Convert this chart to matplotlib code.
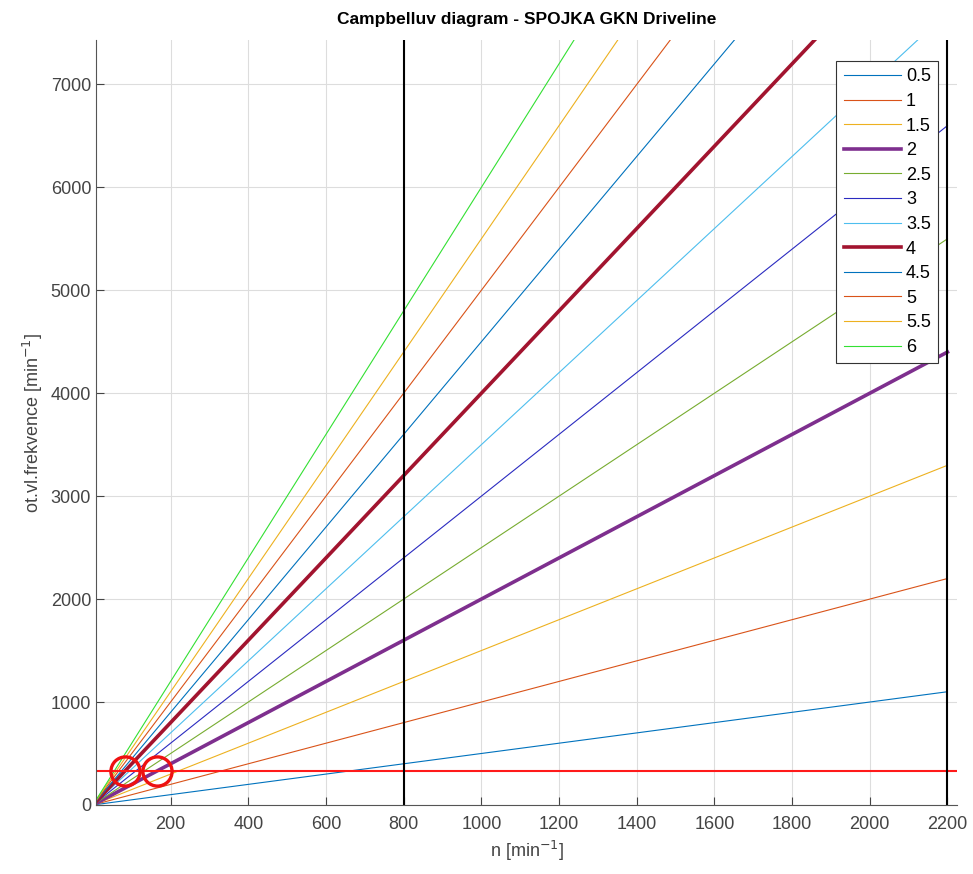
import numpy as np
import matplotlib.pyplot as plt

plt.rcParams['font.family'] = ['Liberation Sans', 'DejaVu Sans']

# harmonic orders k, lines f = k * n
orders = [0.5, 1, 1.5, 2, 2.5, 3, 3.5, 4, 4.5, 5, 5.5, 6]
labels = ['0.5', '1', '1.5', '2', '2.5', '3', '3.5', '4', '4.5', '5', '5.5', '6']
colors = ['#0072BD', '#D95319', '#EDB120', '#7E2F8E', '#77AC30', '#2B2BC0',
          '#4DBEEE', '#A2142F', '#0072BD', '#D95319', '#EDB120', '#33E033']
thick = [2, 4]

n = np.array([0, 2200])
f_own = 330               # vlastni frekvence [min^-1]
n_limits = [800, 2200]    # provozni otacky
crossings = [330 / 4, 330 / 2]

fig = plt.figure(figsize=(9.73, 8.74), dpi=100)
ax = fig.add_axes([0.0987, 0.079, 0.885, 0.875])

for k, lab, c in zip(orders, labels, colors):
    lw = 2.6 if k in thick else 0.8
    ax.plot(n, k * n, color=c, lw=lw, label=lab)

ax.axhline(f_own, color='#FF1A1A', lw=1.5)
for x in n_limits:
    ax.axvline(x, color='black', lw=1.5)
ax.plot(crossings, [f_own, f_own], 'o', ms=21, mfc='none', mec='#EE1111', mew=2.4)

ax.set_xlim(8, 2225)
ax.set_ylim(0, 7430)
ax.set_xticks(np.arange(200, 2201, 200))
ax.set_yticks(np.arange(0, 7001, 1000))
ax.grid(True, color='#DDDDDD', lw=0.8)
ax.set_axisbelow(True)
for s in ['top', 'right']:
    ax.spines[s].set_visible(False)
for s in ['left', 'bottom']:
    ax.spines[s].set_color('#555555')
ax.tick_params(direction='in', labelsize=13, colors='#444444', length=6)
ax.tick_params(axis='x', pad=8)

ax.set_xlabel('n [min$^{-1}$]', fontsize=13, color='#444444')
ax.set_ylabel('ot.vl.frekvence [min$^{-1}$]', fontsize=13, color='#444444')
ax.set_title('Campbelluv diagram - SPOJKA GKN Driveline', fontsize=12.5,
             fontweight='bold', pad=12)

leg = ax.legend(loc='upper right', bbox_to_anchor=(0.978, 0.9725), fontsize=13,
                handlelength=3.2, fancybox=False, framealpha=1, borderaxespad=0,
                labelspacing=0.42, handletextpad=0.25, borderpad=0.4)
leg.get_frame().set_edgecolor('#333333')
leg.get_frame().set_linewidth(0.8)

fig.savefig('out.png', dpi=100)
